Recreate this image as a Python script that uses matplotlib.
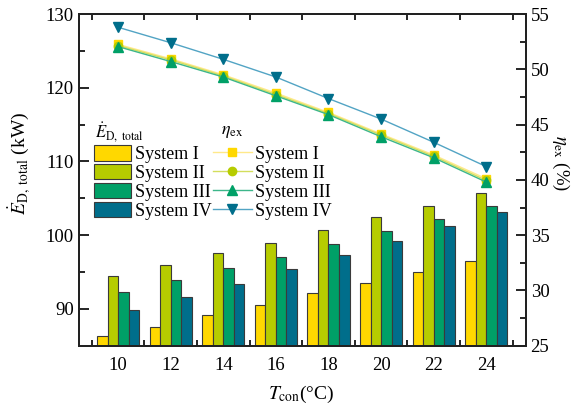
import matplotlib
matplotlib.use("Agg")
import matplotlib.pyplot as plt
import numpy as np
from matplotlib.patches import Patch
from matplotlib.lines import Line2D

plt.rcParams['font.family'] = ['Liberation Serif', 'DejaVu Serif']
plt.rcParams['mathtext.fontset'] = 'stix'

# ---------------- data ----------------
t_con = [10, 12, 14, 16, 18, 20, 22, 24]
systems = ["System I", "System II", "System III", "System IV"]

ed_sys1 = [86.3, 87.6, 89.1, 90.5, 92.1, 93.5, 95.0, 96.5]
ed_sys2 = [94.4, 95.9, 97.55, 99.0, 100.7, 102.4, 103.9, 105.7]
ed_sys3 = [92.3, 93.9, 95.5, 97.1, 98.85, 100.5, 102.2, 103.9]
ed_sys4 = [89.8, 91.6, 93.4, 95.4, 97.3, 99.2, 101.2, 103.1]

eta_sys1 = [52.25, 50.95, 49.5, 47.85, 46.1, 44.15, 42.25, 40.1]
eta_sys2 = [52.15, 50.85, 49.4, 47.72, 46.0, 44.05, 42.13, 39.95]
eta_sys3 = [52.05, 50.7, 49.3, 47.6, 45.9, 43.9, 42.0, 39.8]
eta_sys4 = [53.8, 52.4, 50.9, 49.3, 47.35, 45.5, 43.4, 41.2]

left_ticks = [90, 100, 110, 120, 130]
right_ticks = [25, 30, 35, 40, 45, 50, 55]

# ---------------- style ----------------
bar_colors = ['#FFD800', '#B6CC00', '#00A067', '#006E8B']
line_colors = ['#FFE98A', '#D3DE5C', '#3DB68A', '#52A4C4']
markers = ['s', 'o', '^', 'v']

fig = plt.figure(figsize=(5.71, 4.05), dpi=100)
ax = fig.add_axes([0.1378, 0.1464, 0.9207 - 0.1378, 0.9654 - 0.1464])
ax2 = ax.twinx()

x = np.array(t_con, dtype=float)
w = 0.40
ed_all = [ed_sys1, ed_sys2, ed_sys3, ed_sys4]
for i, vals in enumerate(ed_all):
    ax.bar(x + (i - 1.5) * w, vals, width=w, color=bar_colors[i],
           edgecolor='#3a3a3a', linewidth=0.8, zorder=2)

eta_all = [eta_sys1, eta_sys2, eta_sys3, eta_sys4]
msz = [6, 6, 7, 7]
for i, vals in enumerate(eta_all):
    ax2.plot(x, vals, color=line_colors[i], lw=1.0, marker=markers[i],
             markersize=msz[i], markerfacecolor=bar_colors[i],
             markeredgecolor=bar_colors[i], zorder=3)

ax.set_xlim(8.5, 25.5)
ax.set_ylim(85, 130)
ax2.set_ylim(25, 55)

ax.set_xticks(t_con)
ax.set_xticklabels([str(v) for v in t_con], fontsize=13.5)
ax.set_xticks(np.arange(9, 26, 2), minor=True)
ax.tick_params(axis='x', which='major', length=0, pad=8)
ax.tick_params(axis='x', which='minor', direction='in', length=4, width=1.2,
               top=True, bottom=True)

ax.set_yticks(left_ticks)
ax.set_yticklabels([str(v) for v in left_ticks], fontsize=13.5)
ax.set_yticks(np.arange(85, 131, 5), minor=True)
ax.tick_params(axis='y', which='major', direction='in', length=7, width=1.2)
ax.tick_params(axis='y', which='minor', direction='in', length=4, width=1.2)

ax2.set_yticks(right_ticks)
ax2.set_yticklabels([str(v) for v in right_ticks], fontsize=13.5)
ax2.set_yticks(np.arange(25, 55.1, 2.5), minor=True)
ax2.tick_params(axis='y', which='major', direction='in', length=7, width=1.2)
ax2.tick_params(axis='y', which='minor', direction='in', length=4, width=1.2)

for a in (ax, ax2):
    for s in a.spines.values():
        s.set_linewidth(1.4)
        s.set_color('#222222')

ax.set_ylabel(r'$\dot{E}_{\mathrm{D,\ total}}$' + ' (kW)', fontsize=14)
ax.yaxis.set_label_coords(-0.105, 0.55)
ax2.set_ylabel(r'$\eta_{\mathrm{ex}}$' + ' (%)', fontsize=13.5, rotation=270,
               va='center')
ax2.yaxis.set_label_coords(1.077, 0.55)
ax.set_xlabel(r'$T_{\mathrm{con}}$' + '(°C)', fontsize=14)
ax.xaxis.set_label_coords(0.497, -0.115)

# legends
bar_handles = [Patch(facecolor=bar_colors[i], edgecolor='#3a3a3a', linewidth=0.8)
               for i in range(4)]
line_handles = [Line2D([], [], color=line_colors[i], lw=1.0, marker=markers[i],
                       markersize=msz[i], markerfacecolor=bar_colors[i],
                       markeredgecolor=bar_colors[i]) for i in range(4)]

leg1 = ax2.legend(bar_handles, systems, loc='upper left',
                  bbox_to_anchor=(94 / 571, 1 - 145 / 405),
                  bbox_transform=fig.transFigure, frameon=False, fontsize=13,
                  handlelength=2.05, handleheight=0.95, handletextpad=0.2,
                  labelspacing=0.05, borderpad=0, borderaxespad=0)
ax2.add_artist(leg1)
leg2 = ax2.legend(line_handles, systems, loc='upper left',
                  bbox_to_anchor=(213 / 571, 1 - 145 / 405),
                  bbox_transform=fig.transFigure, frameon=False, fontsize=13,
                  handlelength=2.15, handleheight=0.95, handletextpad=0.2,
                  labelspacing=0.05, borderpad=0, borderaxespad=0)

fig.text(95 / 571, 1 - 132 / 405, r'$\dot{E}_{\mathrm{D,\ total}}$',
         fontsize=12, ha='left', va='center')
fig.text(232 / 571, 1 - 132 / 405, r'$\eta_{\mathrm{ex}}$',
         fontsize=13, ha='center', va='center')

fig.savefig('out.png', dpi=100)
